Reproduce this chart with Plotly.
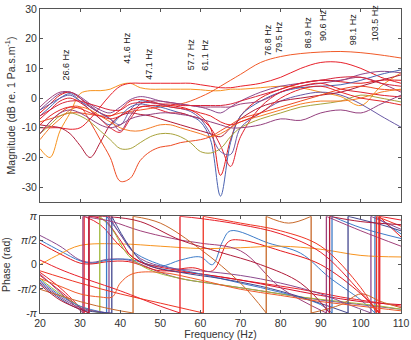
import numpy as np
import plotly.graph_objects as go

PI = np.pi

# ---- magnitude data (dB re. 1 Pa.s.m^-1) ----
freq = [20, 22.5, 25, 27.5, 30, 32.5, 35, 37.5, 40, 42.5, 45, 47.5, 50, 52.5, 55, 57.5,
        60, 62.5, 65, 67.5, 70, 75, 80, 85, 90, 95, 100, 105, 110]

mag_a = [-17, -20, -11, -5, 1.5, 2.5, 2.5, 3, 4.5, 5, 3.5, 3, 3, 3, 3, 3, 2.8, 2.5, 2.5, 3, 3, 3.5, 4, 3.5, 2, 0.5, -2.5, 4, 8.5]
mag_b = [-8, -7, -6, -5, -5, -5.5, -6, -6, -5, -4.5, -4, -3.5, -3, -2.5, -2, -1, 0.4, 2, 4, 6, 8, 12, 14, 15, 15.5, 15.7, 15.3, 14.5, 13.5]
mag_c = [-10, -10, -10, -10.5, -10, -7, -3, 1, 4, 5, 5, 5, 5, 5, 5, 5, 4.5, 4, 3.5, 3.5, 4, 5, 7, 10, 12, 12, 10, 7, 5]
mag_d = [-4, -1, 1.5, 2, 0.5, -2, -4, -5, -3, -0.5, 0.5, 0, -1, -1.5, -2, -2.5, -3, -4, -5, -3, -1, 2, 4, 5, 6, 6, 8, 9, 8.5]
mag_e = [-5, -2, 1, 2, 0, -3, -5, -6, -4, -1, -0.5, -1, -2, -2.5, -3, -4, -6, -10, -26, -14, -6, 0, 3, 5, 6, 5.5, 5, 6, 6]
mag_f = [-6, -3, 0, 1.5, -1, -4, -7, -9, -6, -3, -2, -2.5, -3, -4, -5, -6, -8, -14, -33, -15, -6, -1, 2, 3.5, 4, 4.5, 6, 8, 9.5]
mag_g = [-3, 0, 2, 2, 0, -2.5, -5, -7, -11, -6, -2, -1, -1, -1.5, -2, -2.5, -3, -3, -3, -3, -2, -1, 2, 4, 5, 6, 7, 5, 2]
mag_h = [-7, -4, -1, 0, -1.5, -4, -7, -10, -11.5, -7, -3, -3, -4, -5, -5, -6, -7, -10, -16, -23, -13, -3, 2, 4, 5, 3, 2, 1, 0.4]
mag_i = [-4, -2, 0, 1, -1, -3, -5, -7, -9, -4, -1, -1.5, -2, -3, -3.5, -4.5, -7, -12, -18, -19, -10, -5, -1, 1, 2, 1, -2, -6, -9.8]
mag_j = [-9, -9.5, -10, -12, -16, -20, -15, -9, -6, -5, -5.5, -6, -7, -8, -9, -10, -11, -12, -13, -10, -7, -3, -1, 0, 1, 2, 4, 6, 7.8]
mag_k = [-12, -8, -5, -3, -3, -8, -14, -20, -28, -27, -21, -18, -16.5, -16, -15, -14.5, -14, -13, -11, -9, -7, -5, -3, -1, 1, 3, 4, 3, 2.7]
mag_l = [-12, -9, -6, -5, -6, -8, -11, -14, -17, -17, -15, -13, -12, -12, -13, -15, -18, -18.5, -17, -13, -10, -7, -5, -3, -2, -1, 1, 0, -1.3]
mag_m = [-14, -10, -7, -4, -3, -4, -6, -8, -10, -11, -11, -10, -9, -9, -10, -11, -12, -13, -12, -10, -8, -6, -4, -2, -1, -1, 0, 2, 3]
mag_n = [-9, -6, -4, -3, -3.5, -5, -6, -7, -6, -4, -3, -2.5, -2.5, -3, -3.5, -4, -5, -6, -8, -9, -8, -5, 0, 3, 4, 2, 0, -1, -2.3]
mag_o = [-12, -8, -5, -4, -5, -7, -9, -10, -9, -7, -6, -5.5, -5, -5, -5.5, -6, -7, -8, -9, -10, -10, -9, -7, -7.5, -5, -4, -5, -2, 1]
mag_p = [-6, -4, -2, -1, -1, -2, -3, -4, -4, -2, -1.5, -1.5, -2, -2, -2.5, -2.5, -2.5, -2.5, -2.5, -2, -1, 1, 3, 5, 6, 7, 7, 5, 4]

mag_series = [
    (mag_a, "#f7931e"), (mag_b, "#f15a28"), (mag_c, "#e8202a"), (mag_d, "#8c4a8e"),
    (mag_e, "#e31a1c"), (mag_f, "#4a62b0"), (mag_g, "#a0407a"), (mag_h, "#e0202e"),
    (mag_i, "#6a5aa6"), (mag_j, "#b01c3a"), (mag_k, "#ee4a22"), (mag_l, "#a8a23a"),
    (mag_m, "#f47a24"), (mag_n, "#e5262a"), (mag_o, "#94407e"), (mag_p, "#d8243a"),
]

# ---- phase data (rad); repeated frequency = wrap between -pi and pi ----
ph_a_f = [20, 25, 30, 33, 37, 42, 50, 55, 62, 70, 80, 90, 100, 110]
ph_a_v = [1.9, 1.2, 0.3, 0.15, 0.35, 0.3, -0.5, -0.9, -1.2, -1.5, -1.9, -2.3, -2.6, -2.9]
ph_b_f = [20, 25, 30, 33, 37, 42, 50, 55, 60, 63, 65.5, 67.5, 77, 85, 92, 100, 103.5, 103.5, 110]
ph_b_v = [1.6, 0.9, 0.25, 0.1, 0.3, 0.35, -0.1, 0.3, 0.5, 0.0, 1.5, 2.2, 1.4, 0.74, -0.8, -2.3, -PI, PI, 2.0]
ph_c_f = [20, 25, 30, 33, 37, 42, 50, 58, 63, 67, 70, 80, 90, 100, 104.5, 104.5, 110]
ph_c_v = [1.4, 0.7, 0.1, 0.05, 0.2, 0.2, -0.4, -0.2, -0.4, 1.5, 1.6, 0.9, 0.0, -1.9, -PI, PI, 1.8]
ph_d_f = [20, 25, 30, 40, 50, 60, 70, 80, 90, 100, 110]
ph_d_v = [0.0, 0.7, 1.25, 1.35, 1.2, 1.05, 1.1, 1.2, 1.0, 0.6, 0.5]
ph_e_f = [20, 25, 30, 31, 31, 35, 40, 45, 55, 65, 75, 85, 95, 105, 110]
ph_e_v = [-0.5, -1.5, -2.8, -PI, PI, 2.6, 1.2, 0.2, -0.4, -0.8, -1.2, -1.6, -2.1, -2.5, -2.7]
ph_f_f = [20, 25, 30, 32.2, 32.2, 36, 40, 43, 50, 60, 70, 80, 90, 100, 110]
ph_f_v = [-0.7, -1.7, -2.8, -PI, PI, 2.9, 1.6, 0.5, -0.3, -0.6, -1.0, -1.5, -2.0, -2.4, -2.6]
ph_g_f = [20, 25, 30, 34.9, 34.9, 38, 42, 47, 55, 65, 75, 85, 95, 105, 110]
ph_g_v = [-0.9, -1.9, -2.7, -PI, PI, 2.3, 0.6, -0.3, -0.9, -1.3, -1.7, -2.1, -2.4, -2.7, -2.9]
ph_h_f = [20, 25, 30, 36.6, 36.6, 40, 43, 50, 60, 70, 80, 90, 92.8, 92.8, 100, 110]
ph_h_v = [-1.0, -2.0, -2.7, -PI, PI, 2.0, 0.9, 0.0, -0.6, -1.2, -1.8, -2.6, -PI, PI, 2.4, 1.7]
ph_i_f = [20, 25, 30, 37.2, 37.2, 41, 45, 52, 60, 70, 80, 90, 97, 102.5, 102.5, 110]
ph_i_v = [-1.1, -2.1, -2.8, -PI, PI, 1.6, 0.4, -0.2, -0.4, -0.7, -1.2, -1.9, -2.6, -PI, PI, 2.3]
ph_j_f = [20, 25, 30, 37.9, 37.9, 42, 46, 55, 65, 75, 85, 96.8, 96.8, 105, 110]
ph_j_v = [-1.2, -2.2, -2.9, -PI, PI, 1.3, 0.1, -0.5, -0.9, -1.4, -2.1, -PI, PI, 2.6, 2.2]
ph_k_f = [20, 25, 30.7, 30.7, 34, 38, 45, 55, 60, 70, 80, 91.4, 91.4, 100, 110]
ph_k_v = [-0.6, -1.8, -PI, PI, 3.0, 2.8, 2.2, 1.6, 1.4, 0.9, -1.5, -PI, PI, 2.2, 1.2]
ph_l_f = [20, 30, 38, 43.2, 43.2, 50, 60, 70, 76.4, 76.4, 82, 87.6, 87.6, 95, 100, 105, 110]
ph_l_v = [-1.6, -2.4, -2.9, -PI, PI, 2.7, 1.0, -1.2, -PI, PI, 2.7, PI, -PI, -2.6, -1.9, -2.4, -2.8]
ph_m_f = [20, 25, 30, 40, 50, 54.9, 54.9, 60, 70, 80, 90, 100, 104.7, 104.7, 110]
ph_m_v = [0.3, -0.3, -0.8, -1.7, -2.7, -PI, PI, 3.0, 2.6, 2.0, 0.8, -1.8, -PI, PI, 2.9]
ph_n_f = [20, 30, 40, 50, 60.7, 60.7, 70, 80, 90, 100, 103.9, 103.9, 110]
ph_n_v = [-0.4, -1.2, -1.9, -2.5, -PI, PI, 2.7, 2.2, 1.2, -1.5, -PI, PI, 2.5]
ph_o_f = [20, 25, 30, 35, 38, 40, 43, 50, 60, 70, 80, 90, 100, 110]
ph_o_v = [-0.9, -1.4, -1.9, -2.1, -2.1, -1.2, -0.6, -0.5, -1.0, -1.6, -2.0, -2.4, -2.7, -3.0]
ph_p_f = [20, 25, 30, 32.2, 32.2, 38, 45, 55, 65, 75, 85, 92.2, 92.2, 100, 110]
ph_p_v = [-1.3, -2.3, -2.9, -PI, PI, 3.1, 2.8, 1.6, 0.8, 0.0, -1.2, -PI, PI, 2.8, 2.6]

ph_series = [
    (ph_a_f, ph_a_v, "#8c4a8e"), (ph_b_f, ph_b_v, "#3d7cc9"), (ph_c_f, ph_c_v, "#e31a1c"),
    (ph_d_f, ph_d_v, "#f7931e"), (ph_e_f, ph_e_v, "#e8202a"), (ph_f_f, ph_f_v, "#d7102a"),
    (ph_g_f, ph_g_v, "#9fb83a"), (ph_h_f, ph_h_v, "#3d7cc9"), (ph_i_f, ph_i_v, "#8c4a8e"),
    (ph_j_f, ph_j_v, "#44478f"), (ph_k_f, ph_k_v, "#a0407a"), (ph_l_f, ph_l_v, "#c8692a"),
    (ph_m_f, ph_m_v, "#e8202a"), (ph_n_f, ph_n_v, "#ee3424"), (ph_o_f, ph_o_v, "#f05a28"),
    (ph_p_f, ph_p_v, "#b01c3a"),
]

# resonance labels
peak_freqs = [26.6, 41.6, 47.1, 57.7, 61.1, 76.8, 79.5, 86.9, 90.6, 98.1, 103.5]
peak_label_db = [5.4, 10.8, 5.4, 8.8, 8.5, 13.5, 14.5, 16.2, 18.6, 17.2, 18.6]

fig = go.Figure()

for vals, col in mag_series:
    fig.add_trace(go.Scatter(x=freq, y=vals, mode="lines", line=dict(color=col, width=1, shape="spline"),
                             xaxis="x", yaxis="y", showlegend=False, hoverinfo="skip"))

for fx, fv, col in ph_series:
    xs, ys, wx, wy = [], [], [], []
    for i, (f, v) in enumerate(zip(fx, fv)):
        if i > 0 and f == fx[i - 1]:
            # wrap: break the smooth curve and draw the vertical jump
            xs.append(None)
            ys.append(None)
            wx += [f, f, None]
            wy += [fv[i - 1], v, None]
        xs.append(f)
        ys.append(v)
    fig.add_trace(go.Scatter(x=xs, y=ys, mode="lines", line=dict(color=col, width=1, shape="spline"),
                             connectgaps=False, xaxis="x2", yaxis="y2", showlegend=False, hoverinfo="skip"))
    if wx:
        fig.add_trace(go.Scatter(x=wx, y=wy, mode="lines", line=dict(color=col, width=1.3),
                                 xaxis="x2", yaxis="y2", showlegend=False, hoverinfo="skip"))

for f, ydb in zip(peak_freqs, peak_label_db):
    fig.add_annotation(x=f, y=ydb, xref="x", yref="y", text=f"{f} Hz", textangle=-90,
                       showarrow=False, xanchor="center", yanchor="bottom",
                       font=dict(size=9, color="#222"))

axis_style = dict(showline=True, linecolor="#555", linewidth=1, mirror="ticks", ticks="inside",
                  ticklen=3, tickcolor="#555", showgrid=False, zeroline=False, automargin=False,
                  ticklabeloverflow="allow", tickfont=dict(size=10.5, color="#333"))

fig.update_layout(
    width=411, height=340,
    margin=dict(l=40, r=10, t=9, b=27),
    paper_bgcolor="white", plot_bgcolor="white",
    font=dict(family="Liberation Sans, Arial, sans-serif", color="#333"),
    xaxis=dict(domain=[0, 1], range=[20, 110], anchor="y", tickvals=list(range(20, 111, 10)),
               showticklabels=False, **axis_style),
    yaxis=dict(domain=[0.365, 1], range=[-35, 30], anchor="x", tickvals=list(range(-30, 31, 10)),
               ticktext=[str(v) for v in range(-30, 31, 10)],
               title=dict(text="Magnitude (dB re. 1 Pa.s.m<sup>-1</sup>)", font=dict(size=10.5), standoff=4),
               **axis_style),
    xaxis2=dict(domain=[0, 1], range=[20, 110], anchor="y2", tickvals=list(range(20, 111, 10)),
                title=dict(text="Frequency (Hz)", font=dict(size=10.5), standoff=2),
                **axis_style),
    yaxis2=dict(domain=[0, 0.318], range=[-PI, PI], anchor="x2",
                tickvals=[-PI, -PI / 2, 0, PI / 2, PI],
                ticktext=["-<i>π</i>", "-<i>π</i>/2", "0", "<i>π</i>/2", "<i>π</i>"],
                title=dict(text="Phase (rad)", font=dict(size=10.5), standoff=4),
                **axis_style),
)

# drop the default 8px page margin so the figure sits at the window corner
fig.write_html("out.html", config={"displayModeBar": False},
               post_script="document.body.style.margin='0';")
